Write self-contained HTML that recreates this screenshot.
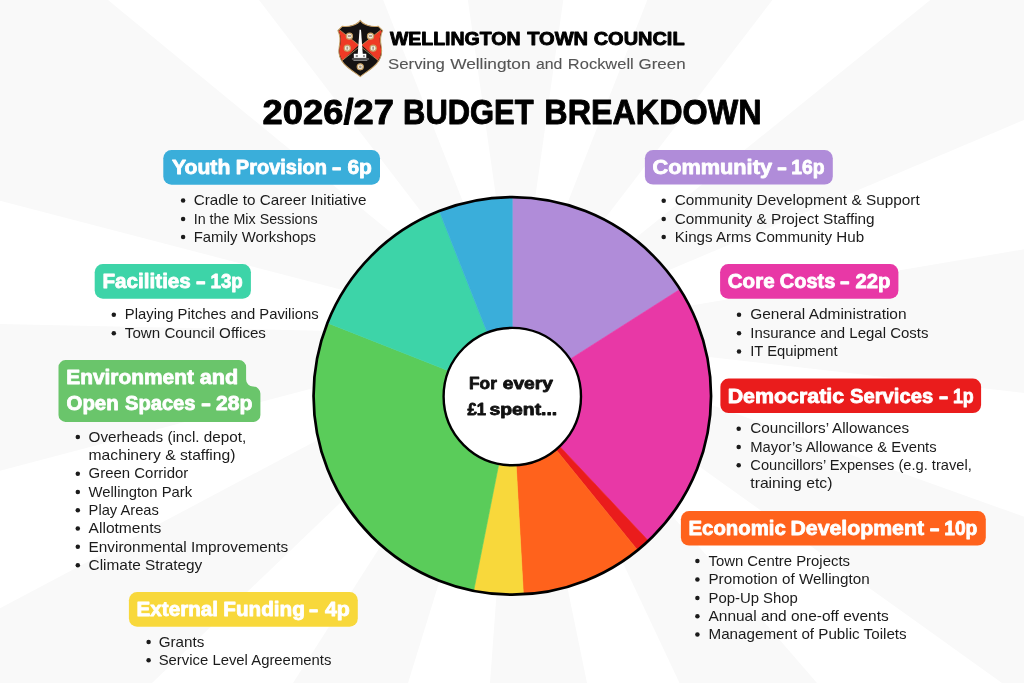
<!DOCTYPE html>
<html lang="en"><head><meta charset="utf-8"><title>Wellington Town Council - 2026/27 Budget Breakdown</title>
<style>
html,body{margin:0;padding:0;background:#fff;}
body{width:1024px;height:683px;overflow:hidden;font-family:"Liberation Sans", sans-serif;}
svg{display:block;font-family:"Liberation Sans", sans-serif;will-change:transform;}
text{white-space:pre;}
</style></head><body>
<svg width="1024" height="683" viewBox="0 0 1024 683">
<rect width="1024" height="683" fill="#ffffff"/>
<g fill="#f9f9f9"><polygon points="515.6,335 467.9,0 563.3,0"/><polygon points="515.6,335 647.3,0 772.4,0"/><polygon points="515.6,335 930.3,0 1024,0 1024,119.9"/><polygon points="515.6,335 1024,249.3 1024,393"/><polygon points="515.6,335 1024,516.7 1024,683 1002,683"/><polygon points="515.6,335 817,683 679.5,683"/><polygon points="515.6,335 587,683 490,683"/><polygon points="515.6,335 408,683 293,683"/><polygon points="515.6,335 152,683 0,683 0,608.3"/><polygon points="515.6,335 0,470.7 0,323.9"/><polygon points="515.6,335 0,200.8 0,0 108,0"/><polygon points="515.6,335 259,0 383.2,0"/></g>
<g transform="translate(330,14) scale(0.10256) translate(293,62) scale(1.03,1.012) translate(-291,-62)">
<path d="M293,62 C316,100 392,130 462,118 L505,160 C478,212 480,258 492,318 C506,392 486,436 446,482 C400,534 338,566 293,604 C248,566 186,534 140,482 C100,436 80,392 94,318 C106,258 108,212 81,160 L124,118 C194,130 270,100 293,62 Z" fill="#151212" stroke="#c8a166" stroke-width="10" stroke-linejoin="round"/>
<path d="M98,156 L280,300 L126,448 C96,400 90,362 100,318 C113,258 112,212 90,166 Z" fill="#ef3a25"/>
<path d="M488,156 L306,300 L460,448 C490,400 496,362 486,318 C473,258 474,212 496,166 Z" fill="#ef3a25"/>
<path d="M94,150 L468,452 M492,150 L118,452" stroke="#c8a166" stroke-width="7" fill="none"/>
<path d="M286,152 L300,152 L317,392 L269,392 Z" fill="#fff"/>
<rect x="232" y="384" width="118" height="40" fill="#fff"/>
<rect x="250" y="396" width="20" height="20" fill="#151212" opacity="0.5"/>
<rect x="320" y="396" width="16" height="20" fill="#151212" opacity="0.5"/>
<path d="M214,434 H376 M228,448 H360" stroke="#fff" stroke-width="5"/>
<g fill="#f2ece0" stroke="#c8a166" stroke-width="11">
<circle cx="190" cy="214" r="29"/><circle cx="390" cy="214" r="29"/>
<circle cx="170" cy="330" r="29"/><circle cx="415" cy="330" r="29"/>
<circle cx="293" cy="510" r="29"/>
</g>
<g fill="#6b5a45" opacity="0.55">
<rect x="175" y="204" width="30" height="18"/><rect x="375" y="204" width="30" height="18"/>
<rect x="162" y="315" width="16" height="29"/><rect x="407" y="315" width="16" height="29"/>
<circle cx="293" cy="510" r="13"/>
</g>
</g>

<text y="45.3" font-size="18.4" font-weight="700" fill="#000" stroke="#000" stroke-width="0.9" stroke-linejoin="round"><tspan x="389.95" textLength="130.58" lengthAdjust="spacingAndGlyphs">WELLINGTON</tspan> <tspan x="527.15" textLength="60.92" lengthAdjust="spacingAndGlyphs">TOWN</tspan> <tspan x="593.73" textLength="90.86" lengthAdjust="spacingAndGlyphs">COUNCIL</tspan></text>
<text y="68.7" font-size="14.9" font-weight="400" fill="#555" stroke="#555" stroke-width="0.1" stroke-linejoin="round"><tspan x="388.13" textLength="56.76" lengthAdjust="spacingAndGlyphs">Serving</tspan> <tspan x="450.15" textLength="80.47" lengthAdjust="spacingAndGlyphs">Wellington</tspan> <tspan x="535.96" textLength="26.38" lengthAdjust="spacingAndGlyphs">and</tspan> <tspan x="567.86" textLength="65.87" lengthAdjust="spacingAndGlyphs">Rockwell</tspan> <tspan x="638.56" textLength="47.04" lengthAdjust="spacingAndGlyphs">Green</tspan></text>
<text y="124.2" font-size="34.4" font-weight="700" fill="#000" stroke="#000" stroke-width="0.9" stroke-linejoin="round"><tspan x="262.61" textLength="131.31" lengthAdjust="spacingAndGlyphs">2026/27</tspan> <tspan x="403.12" textLength="130.48" lengthAdjust="spacingAndGlyphs">BUDGET</tspan> <tspan x="544.33" textLength="217.15" lengthAdjust="spacingAndGlyphs">BREAKDOWN</tspan></text>
<path d="M512.3,395.9 L512.30,197.15 A198.75,198.75 0 0 1 680.02,289.26 Z" fill="#b08cd9" stroke="#b08cd9" stroke-width="0.6"/><path d="M512.3,395.9 L680.02,289.26 A198.75,198.75 0 0 1 648.35,540.78 Z" fill="#e838a6" stroke="#e838a6" stroke-width="0.6"/><path d="M512.3,395.9 L648.35,540.78 A198.75,198.75 0 0 1 637.65,550.14 Z" fill="#ea1c1c" stroke="#ea1c1c" stroke-width="0.6"/><path d="M512.3,395.9 L637.65,550.14 A198.75,198.75 0 0 1 523.39,594.34 Z" fill="#ff621c" stroke="#ff621c" stroke-width="0.6"/><path d="M512.3,395.9 L523.39,594.34 A198.75,198.75 0 0 1 473.70,590.86 Z" fill="#f8d83b" stroke="#f8d83b" stroke-width="0.6"/><path d="M512.3,395.9 L473.70,590.86 A198.75,198.75 0 0 1 327.44,322.90 Z" fill="#5acc5a" stroke="#5acc5a" stroke-width="0.6"/><path d="M512.3,395.9 L327.44,322.90 A198.75,198.75 0 0 1 439.30,211.04 Z" fill="#3dd4a8" stroke="#3dd4a8" stroke-width="0.6"/><path d="M512.3,395.9 L439.30,211.04 A198.75,198.75 0 0 1 512.30,197.15 Z" fill="#3aaeda" stroke="#3aaeda" stroke-width="0.6"/><circle cx="512.3" cy="395.9" r="198.75" fill="none" stroke="#000" stroke-width="2.7"/><circle cx="512.3" cy="396.6" r="68.7" fill="#fff" stroke="#000" stroke-width="2.4"/>
<text y="388.7" font-size="16.0" font-weight="700" fill="#111" stroke="#111" stroke-width="0.8" stroke-linejoin="round"><tspan x="469.12" textLength="27.72" lengthAdjust="spacingAndGlyphs">For</tspan> <tspan x="502.80" textLength="50.08" lengthAdjust="spacingAndGlyphs">every</tspan></text>
<text y="414.8" font-size="16.0" font-weight="700" fill="#111" stroke="#111" stroke-width="0.8" stroke-linejoin="round"><tspan x="467.50" textLength="18.51" lengthAdjust="spacingAndGlyphs">£1</tspan> <tspan x="489.50" textLength="67.75" lengthAdjust="spacingAndGlyphs">spent...</tspan></text>
<rect x="163.3" y="150.1" width="216.7" height="34.6" rx="8.2" fill="#3aaeda"/>
<text y="173.7" font-size="19.6" font-weight="700" fill="#fff" stroke="#fff" stroke-width="0.8" stroke-linejoin="round"><tspan x="171.97" textLength="58.35" lengthAdjust="spacingAndGlyphs">Youth</tspan> <tspan x="235.85" textLength="91.12" lengthAdjust="spacingAndGlyphs">Provision</tspan> <tspan x="331.68" textLength="9.78" lengthAdjust="spacingAndGlyphs">-</tspan> <tspan x="347.45" textLength="24.44" lengthAdjust="spacingAndGlyphs">6p</tspan></text>
<circle cx="183.1" cy="200.6" r="2.25" fill="#1b1b1b"/>
<text x="193.69" y="205.3" textLength="172.83" lengthAdjust="spacingAndGlyphs" font-size="13.9" fill="#1b1b1b">Cradle to Career Initiative</text>
<circle cx="183.1" cy="218.9" r="2.25" fill="#1b1b1b"/>
<text x="193.69" y="223.6" textLength="123.96" lengthAdjust="spacingAndGlyphs" font-size="13.9" fill="#1b1b1b">In the Mix Sessions</text>
<circle cx="183.1" cy="237.1" r="2.25" fill="#1b1b1b"/>
<text x="193.69" y="241.8" textLength="122.28" lengthAdjust="spacingAndGlyphs" font-size="13.9" fill="#1b1b1b">Family Workshops</text>
<rect x="94.7" y="264.0" width="156.2" height="34.7" rx="8.2" fill="#3dd4a8"/>
<text y="287.8" font-size="19.6" font-weight="700" fill="#fff" stroke="#fff" stroke-width="0.8" stroke-linejoin="round"><tspan x="102.51" textLength="88.33" lengthAdjust="spacingAndGlyphs">Facilities</tspan> <tspan x="195.76" textLength="10.03" lengthAdjust="spacingAndGlyphs">-</tspan> <tspan x="210.53" textLength="32.28" lengthAdjust="spacingAndGlyphs">13p</tspan></text>
<circle cx="113.8" cy="314.7" r="2.25" fill="#1b1b1b"/>
<text x="124.84" y="319.4" textLength="193.82" lengthAdjust="spacingAndGlyphs" font-size="13.9" fill="#1b1b1b">Playing Pitches and Pavilions</text>
<circle cx="113.8" cy="333.2" r="2.25" fill="#1b1b1b"/>
<text x="124.84" y="337.9" textLength="141.13" lengthAdjust="spacingAndGlyphs" font-size="13.9" fill="#1b1b1b">Town Council Offices</text>
<path d="M65.5,360.1 H239.1 a7,7 0 0 1 7,7 V379.6 a7,7 0 0 0 7,7 H253.4 a7,7 0 0 1 7,7 V414.9 a7,7 0 0 1 -7,7 H65.5 a7,7 0 0 1 -7,-7 V367.1 a7,7 0 0 1 7,-7 Z" fill="#6ac56b"/>
<text y="384.1" font-size="19.6" font-weight="700" fill="#fff" stroke="#fff" stroke-width="0.8" stroke-linejoin="round"><tspan x="66.19" textLength="127.81" lengthAdjust="spacingAndGlyphs">Environment</tspan> <tspan x="199.86" textLength="38.42" lengthAdjust="spacingAndGlyphs">and</tspan></text>
<text y="410.3" font-size="19.6" font-weight="700" fill="#fff" stroke="#fff" stroke-width="0.8" stroke-linejoin="round"><tspan x="66.56" textLength="52.12" lengthAdjust="spacingAndGlyphs">Open</tspan> <tspan x="124.99" textLength="70.53" lengthAdjust="spacingAndGlyphs">Spaces</tspan> <tspan x="201.06" textLength="10.03" lengthAdjust="spacingAndGlyphs">-</tspan> <tspan x="215.94" textLength="36.35" lengthAdjust="spacingAndGlyphs">28p</tspan></text>
<circle cx="77.8" cy="437.1" r="2.25" fill="#1b1b1b"/>
<text x="88.59" y="441.8" textLength="157.65" lengthAdjust="spacingAndGlyphs" font-size="13.9" fill="#1b1b1b">Overheads (incl. depot,</text>
<text x="88.59" y="460.1" textLength="146.83" lengthAdjust="spacingAndGlyphs" font-size="13.9" fill="#1b1b1b">machinery &amp; staffing)</text>
<circle cx="77.8" cy="473.7" r="2.25" fill="#1b1b1b"/>
<text x="88.59" y="478.4" textLength="99.69" lengthAdjust="spacingAndGlyphs" font-size="13.9" fill="#1b1b1b">Green Corridor</text>
<circle cx="77.8" cy="491.9" r="2.25" fill="#1b1b1b"/>
<text x="88.59" y="496.6" textLength="103.58" lengthAdjust="spacingAndGlyphs" font-size="13.9" fill="#1b1b1b">Wellington Park</text>
<circle cx="77.8" cy="510.2" r="2.25" fill="#1b1b1b"/>
<text x="88.59" y="514.9" textLength="70.27" lengthAdjust="spacingAndGlyphs" font-size="13.9" fill="#1b1b1b">Play Areas</text>
<circle cx="77.8" cy="528.5" r="2.25" fill="#1b1b1b"/>
<text x="88.59" y="533.2" textLength="72.70" lengthAdjust="spacingAndGlyphs" font-size="13.9" fill="#1b1b1b">Allotments</text>
<circle cx="77.8" cy="546.8" r="2.25" fill="#1b1b1b"/>
<text x="88.59" y="551.5" textLength="199.69" lengthAdjust="spacingAndGlyphs" font-size="13.9" fill="#1b1b1b">Environmental Improvements</text>
<circle cx="77.8" cy="565.2" r="2.25" fill="#1b1b1b"/>
<text x="88.59" y="569.9" textLength="113.71" lengthAdjust="spacingAndGlyphs" font-size="13.9" fill="#1b1b1b">Climate Strategy</text>
<rect x="128.9" y="592.1" width="228.9" height="34.6" rx="8.2" fill="#f8d83b"/>
<text y="615.8" font-size="19.6" font-weight="700" fill="#fff" stroke="#fff" stroke-width="0.8" stroke-linejoin="round"><tspan x="136.51" textLength="81.51" lengthAdjust="spacingAndGlyphs">External</tspan> <tspan x="223.31" textLength="81.51" lengthAdjust="spacingAndGlyphs">Funding</tspan> <tspan x="308.89" textLength="9.65" lengthAdjust="spacingAndGlyphs">-</tspan> <tspan x="325.00" textLength="24.90" lengthAdjust="spacingAndGlyphs">4p</tspan></text>
<circle cx="148.6" cy="642.0" r="2.25" fill="#1b1b1b"/>
<text x="158.69" y="646.7" textLength="45.69" lengthAdjust="spacingAndGlyphs" font-size="13.9" fill="#1b1b1b">Grants</text>
<circle cx="148.6" cy="660.3" r="2.25" fill="#1b1b1b"/>
<text x="158.69" y="665.0" textLength="172.68" lengthAdjust="spacingAndGlyphs" font-size="13.9" fill="#1b1b1b">Service Level Agreements</text>
<rect x="644.9" y="150.1" width="187.9" height="34.5" rx="8.2" fill="#b08cd9"/>
<text y="173.7" font-size="19.6" font-weight="700" fill="#fff" stroke="#fff" stroke-width="0.8" stroke-linejoin="round"><tspan x="652.52" textLength="119.44" lengthAdjust="spacingAndGlyphs">Community</tspan> <tspan x="776.96" textLength="10.03" lengthAdjust="spacingAndGlyphs">-</tspan> <tspan x="791.19" textLength="33.24" lengthAdjust="spacingAndGlyphs">16p</tspan></text>
<circle cx="663.7" cy="200.7" r="2.25" fill="#1b1b1b"/>
<text x="674.68" y="205.4" textLength="245.07" lengthAdjust="spacingAndGlyphs" font-size="13.9" fill="#1b1b1b">Community Development &amp; Support</text>
<circle cx="663.7" cy="218.9" r="2.25" fill="#1b1b1b"/>
<text x="674.68" y="223.6" textLength="199.98" lengthAdjust="spacingAndGlyphs" font-size="13.9" fill="#1b1b1b">Community &amp; Project Staffing</text>
<circle cx="663.7" cy="237.1" r="2.25" fill="#1b1b1b"/>
<text x="674.68" y="241.8" textLength="189.43" lengthAdjust="spacingAndGlyphs" font-size="13.9" fill="#1b1b1b">Kings Arms Community Hub</text>
<rect x="720.1" y="264.1" width="178.3" height="34.6" rx="8.2" fill="#e838a6"/>
<text y="287.8" font-size="19.6" font-weight="700" fill="#fff" stroke="#fff" stroke-width="0.8" stroke-linejoin="round"><tspan x="727.76" textLength="46.85" lengthAdjust="spacingAndGlyphs">Core</tspan> <tspan x="779.88" textLength="55.53" lengthAdjust="spacingAndGlyphs">Costs</tspan> <tspan x="839.86" textLength="10.03" lengthAdjust="spacingAndGlyphs">-</tspan> <tspan x="855.47" textLength="35.00" lengthAdjust="spacingAndGlyphs">22p</tspan></text>
<circle cx="739" cy="314.7" r="2.25" fill="#1b1b1b"/>
<text x="750.28" y="319.4" textLength="156.28" lengthAdjust="spacingAndGlyphs" font-size="13.9" fill="#1b1b1b">General Administration</text>
<circle cx="739" cy="333.2" r="2.25" fill="#1b1b1b"/>
<text x="750.28" y="337.9" textLength="178.19" lengthAdjust="spacingAndGlyphs" font-size="13.9" fill="#1b1b1b">Insurance and Legal Costs</text>
<circle cx="739" cy="351.5" r="2.25" fill="#1b1b1b"/>
<text x="750.28" y="356.2" textLength="87.37" lengthAdjust="spacingAndGlyphs" font-size="13.9" fill="#1b1b1b">IT Equipment</text>
<rect x="720.4" y="378.5" width="260.7" height="34.6" rx="8.2" fill="#ea1c1c"/>
<text y="402.5" font-size="19.6" font-weight="700" fill="#fff" stroke="#fff" stroke-width="0.8" stroke-linejoin="round"><tspan x="727.66" textLength="116.57" lengthAdjust="spacingAndGlyphs">Democratic</tspan> <tspan x="850.08" textLength="83.03" lengthAdjust="spacingAndGlyphs">Services</tspan> <tspan x="938.69" textLength="9.65" lengthAdjust="spacingAndGlyphs">-</tspan> <tspan x="952.89" textLength="20.80" lengthAdjust="spacingAndGlyphs">1p</tspan></text>
<circle cx="738.7" cy="428.7" r="2.25" fill="#1b1b1b"/>
<text x="750.29" y="433.4" textLength="158.88" lengthAdjust="spacingAndGlyphs" font-size="13.9" fill="#1b1b1b">Councillors’ Allowances</text>
<circle cx="738.7" cy="446.9" r="2.25" fill="#1b1b1b"/>
<text x="750.29" y="451.6" textLength="186.37" lengthAdjust="spacingAndGlyphs" font-size="13.9" fill="#1b1b1b">Mayor’s Allowance &amp; Events</text>
<circle cx="738.7" cy="465.3" r="2.25" fill="#1b1b1b"/>
<text x="750.29" y="470.0" textLength="221.60" lengthAdjust="spacingAndGlyphs" font-size="13.9" fill="#1b1b1b">Councillors’ Expenses (e.g. travel,</text>
<text x="750.29" y="488.2" textLength="82.12" lengthAdjust="spacingAndGlyphs" font-size="13.9" fill="#1b1b1b">training etc)</text>
<rect x="680.9" y="511.1" width="304.9" height="34.5" rx="8.2" fill="#ff621c"/>
<text y="534.7" font-size="19.6" font-weight="700" fill="#fff" stroke="#fff" stroke-width="0.8" stroke-linejoin="round"><tspan x="688.53" textLength="97.18" lengthAdjust="spacingAndGlyphs">Economic</tspan> <tspan x="790.47" textLength="133.53" lengthAdjust="spacingAndGlyphs">Development</tspan> <tspan x="929.49" textLength="10.22" lengthAdjust="spacingAndGlyphs">-</tspan> <tspan x="944.20" textLength="33.13" lengthAdjust="spacingAndGlyphs">10p</tspan></text>
<circle cx="697.4" cy="561.1" r="2.25" fill="#1b1b1b"/>
<text x="708.47" y="565.8" textLength="141.50" lengthAdjust="spacingAndGlyphs" font-size="13.9" fill="#1b1b1b">Town Centre Projects</text>
<circle cx="697.4" cy="579.5" r="2.25" fill="#1b1b1b"/>
<text x="708.47" y="584.2" textLength="161.19" lengthAdjust="spacingAndGlyphs" font-size="13.9" fill="#1b1b1b">Promotion of Wellington</text>
<circle cx="697.4" cy="597.9" r="2.25" fill="#1b1b1b"/>
<text x="708.47" y="602.6" textLength="89.44" lengthAdjust="spacingAndGlyphs" font-size="13.9" fill="#1b1b1b">Pop-Up Shop</text>
<circle cx="697.4" cy="616.2" r="2.25" fill="#1b1b1b"/>
<text x="708.47" y="620.9" textLength="180.22" lengthAdjust="spacingAndGlyphs" font-size="13.9" fill="#1b1b1b">Annual and one-off events</text>
<circle cx="697.4" cy="634.4" r="2.25" fill="#1b1b1b"/>
<text x="708.47" y="639.1" textLength="198.21" lengthAdjust="spacingAndGlyphs" font-size="13.9" fill="#1b1b1b">Management of Public Toilets</text>
</svg></body></html>
